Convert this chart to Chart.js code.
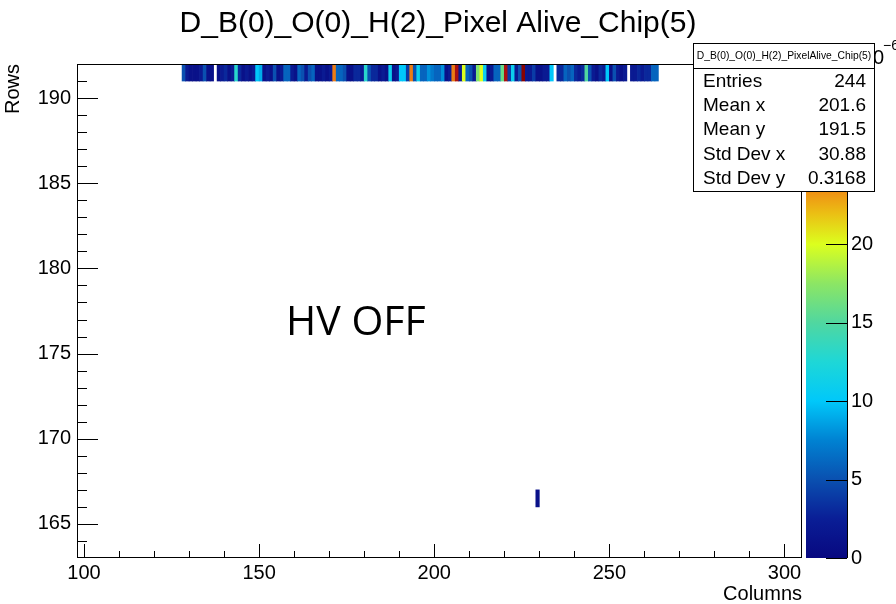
<!DOCTYPE html>
<html>
<head>
<meta charset="utf-8">
<script src="https://cdn.jsdelivr.net/npm/chart.js@4.4.0/dist/chart.umd.min.js"></script>
<style>
  html, body { margin: 0; padding: 0; background: #fff; }
</style>
</head>
<body>
<canvas id="map" width="896" height="604"></canvas>
<script>
// hit map of one chip: one row (191) nearly full, plus a single pixel lower down
const stripRow = 191;
const stripColumns = [
  128,129,130,131,132,133,134,135,136,
  138,139,140,141,142,143,144,145,146,147,
  148,149,150,151,152,153,154,155,156,157,
  158,159,160,161,162,163,164,165,166,167,
  168,169,170,171,172,173,174,175,176,177,
  178,179,180,181,182,183,184,185,186,187,
  188,189,190,191,192,193,194,195,196,197,
  198,199,200,201,202,203,204,205,206,207,
  208,209,210,211,212,213,214,215,216,217,
  218,219,220,221,222,223,224,225,226,227,
  228,229,230,231,232,233,
  235,236,237,238,239,240,241,242,243,244,
  245,246,247,248,249,250,251,252,253,254,
  256,257,258,259,260,261,262,263
];
const stripCounts = [
  5,2,1,1,1,2,5,1,1,
  1,2,3,1,2,13,3,1,2,1,
  2,10,9,1,2,1,5,1,2,6,
  6,2,1,6,5,2,5,6,1,1,
  2,1,2,24,6,6,5,1,1,3,
  3,2,13,5,3,3,1,2,1,11,
  1,2,10,10,4,24,5,11,6,6,
  8,7,6,6,8,1,2,24,29,2,
  20,6,5,2,17,20,11,1,2,6,
  6,16,29,4,11,2,5,31,2,2,
  4,1,1,2,2,10,
  3,3,6,5,6,3,2,3,15,5,
  2,1,3,2,10,1,5,2,1,2,
  2,2,3,2,3,3,6,6
];
const loneColumns = [229];
const loneRows = [166];
const loneCounts = [1];

const xTickValues = [100, 150, 200, 250, 300];
const yTickValues = [165, 170, 175, 180, 185, 190];
const zTickValues = [0, 5, 10, 15, 20, 25, 30];
const zMax = 31.5;

const statNames = ['Entries', 'Mean x', 'Mean y', 'Std Dev x', 'Std Dev y'];
const statValues = ['244', '201.6', '191.5', '30.88', '0.3168'];

const FONT = 'Liberation Sans, Arial, Helvetica, sans-serif';

// colour palette (value -> rgb), same stops feed the colour bar
const paletteStops = [
  [0, [8, 8, 128]], [2.5, [10, 30, 150]], [5, [10, 80, 176]], [7.5, [0, 130, 210]],
  [10, [0, 200, 250]], [12.5, [30, 215, 215]], [15, [80, 215, 160]], [17.5, [140, 230, 100]],
  [20, [220, 255, 30]], [22, [235, 190, 20]], [23.5, [240, 140, 20]], [26, [220, 60, 20]],
  [28.5, [180, 20, 20]], [31.5, [128, 0, 0]]
];

function colorFor(v) {
  for (let i = 1; i < paletteStops.length; i++) {
    const [v1, c1] = paletteStops[i];
    const [v0, c0] = paletteStops[i - 1];
    if (v <= v1) {
      const t = (v - v0) / (v1 - v0);
      const c = c0.map((a, k) => Math.round(a + (c1[k] - a) * t));
      return `rgb(${c[0]},${c[1]},${c[2]})`;
    }
  }
  const last = paletteStops[paletteStops.length - 1][1];
  return `rgb(${last[0]},${last[1]},${last[2]})`;
}

const stripCells = stripColumns.map(c => ({ x: c + 0.5, y: [stripRow, stripRow + 1] }));
const loneCells = loneColumns.map((c, i) => ({ x: c + 0.5, y: [loneRows[i], loneRows[i] + 1] }));

const rootStyle = {
  id: 'rootStyle',
  afterDatasetsDraw(chart) {
    const { ctx, chartArea: a } = chart;
    const xs = chart.scales.x, ys = chart.scales.y, zs = chart.scales.z;
    ctx.save();
    ctx.strokeStyle = '#000';
    ctx.lineWidth = 1;

    // inner ticks, ROOT style
    ctx.beginPath();
    for (let v = 100; v <= 300; v += 10) {
      const px = Math.round(xs.getPixelForValue(v)) + 0.5;
      const len = xTickValues.includes(v) ? 14 : 7;
      ctx.moveTo(px, a.bottom); ctx.lineTo(px, a.bottom - len);
    }
    for (let v = 164; v <= 191; v += 1) {
      const py = Math.round(ys.getPixelForValue(v)) + 0.5;
      const len = yTickValues.includes(v) ? 21 : 10;
      ctx.moveTo(a.left, py); ctx.lineTo(a.left + len, py);
    }
    ctx.stroke();

    // frame
    ctx.strokeRect(Math.round(a.left) + 0.5, Math.round(a.top) + 0.5,
      Math.round(a.right - a.left) - 1, Math.round(a.bottom - a.top) - 1);

    // colour bar
    const barL = zs.left + 4, barR = zs.left + 45;
    const yTop = zs.getPixelForValue(zMax), yBot = zs.getPixelForValue(0);
    const grad = ctx.createLinearGradient(0, yBot, 0, yTop);
    paletteStops.forEach(([v, c]) => grad.addColorStop(v / zMax, `rgb(${c[0]},${c[1]},${c[2]})`));
    ctx.fillStyle = grad;
    ctx.fillRect(barL, yTop, barR - barL, yBot - yTop);
    ctx.beginPath();
    ctx.moveTo(Math.round(barR) + 0.5, yTop); ctx.lineTo(Math.round(barR) + 0.5, yBot);
    zTickValues.forEach(v => {
      const py = Math.round(zs.getPixelForValue(v)) + 0.5;
      ctx.moveTo(barR, py); ctx.lineTo(barR - 21, py);
    });
    ctx.stroke();

    // annotation
    ctx.fillStyle = '#000';
    ctx.font = '41px "Open Sans", sans-serif';
    ctx.textAlign = 'left';
    ctx.textBaseline = 'alphabetic';
    ctx.fillText('HV OFF', xs.getPixelForValue(157.7), ys.getPixelForValue(176.1));

    // z exponent peeking out behind the stats box
    ctx.font = '20px ' + FONT;
    ctx.fillText('10', 862, 64);
    ctx.font = '14px ' + FONT;
    ctx.fillText('\u22126', 883, 50);

    // stats box
    const bx = 693.5, by = 43.5, bw = 181, bh = 148;
    ctx.fillStyle = '#fff';
    ctx.fillRect(bx, by, bw, bh);
    ctx.strokeRect(bx, by, bw, bh);
    ctx.beginPath();
    ctx.moveTo(bx, 68.5); ctx.lineTo(bx + bw, 68.5);
    ctx.stroke();
    ctx.fillStyle = '#000';
    ctx.font = '10.3px ' + FONT;
    ctx.textAlign = 'center';
    ctx.textBaseline = 'middle';
    ctx.fillText('D_B(0)_O(0)_H(2)_PixelAlive_Chip(5)', bx + bw / 2, 56.5);
    ctx.font = '19px ' + FONT;
    statNames.forEach((name, i) => {
      const ty = 82 + i * 24.1;
      ctx.textAlign = 'left';
      ctx.fillText(name, 703, ty);
      ctx.textAlign = 'right';
      ctx.fillText(statValues[i], 866, ty);
    });
    ctx.restore();
  }
};

Chart.defaults.color = '#000';
Chart.defaults.font.family = FONT;

new Chart(document.getElementById('map'), {
  type: 'bar',
  data: {
    datasets: [
      {
        data: stripCells,
        backgroundColor: stripCounts.map(colorFor),
        borderWidth: 0,
        barPercentage: 1,
        categoryPercentage: 1,
        grouped: false
      },
      {
        data: loneCells,
        backgroundColor: loneCounts.map(colorFor),
        borderWidth: 0,
        barPercentage: 1,
        categoryPercentage: 1,
        grouped: false
      }
    ]
  },
  options: {
    responsive: false,
    animation: false,
    devicePixelRatio: 1,
    layout: { padding: { left: 0, right: 20, top: 0, bottom: 0 } },
    plugins: {
      legend: { display: false },
      tooltip: { enabled: false },
      title: {
        display: true,
        text: 'D_B(0)_O(0)_H(2)_Pixel Alive_Chip(5)',
        color: '#000',
        font: { family: FONT, size: 30, weight: 'normal' },
        padding: { top: 6, bottom: 22 }
      }
    },
    scales: {
      x: {
        type: 'linear',
        min: 98,
        max: 305,
        offset: false,
        grid: { display: false, drawTicks: false },
        border: { display: false },
        afterBuildTicks: s => { s.ticks = xTickValues.map(v => ({ value: v })); },
        afterFit: s => { s.height = 46; },
        ticks: { font: { size: 20 }, padding: 3, maxRotation: 0, autoSkip: false },
        title: {
          display: true, text: 'Columns', align: 'end',
          font: { size: 20, lineHeight: 1 }, padding: { top: 0, bottom: 0 }
        }
      },
      y: {
        type: 'linear',
        min: 163,
        max: 192,
        grid: { display: false, drawTicks: false },
        border: { display: false },
        afterBuildTicks: s => { s.ticks = yTickValues.map(v => ({ value: v })); },
        afterFit: s => { s.width = 77; s.paddingTop = 0; s.paddingBottom = 0; },
        ticks: { font: { size: 20 }, padding: 6, autoSkip: false },
        title: {
          display: true, text: 'Rows', align: 'end',
          font: { size: 20, lineHeight: 1 }, padding: { top: 3, bottom: 0 }
        }
      },
      z: {
        type: 'linear',
        axis: 'y',
        position: 'right',
        min: 0,
        max: zMax,
        grid: { display: false, drawTicks: false },
        border: { display: false },
        afterBuildTicks: s => { s.ticks = zTickValues.map(v => ({ value: v })); },
        afterFit: s => { s.width = 74; s.paddingTop = 0; s.paddingBottom = 0; },
        ticks: { font: { size: 20 }, padding: 49, autoSkip: false }
      }
    }
  },
  plugins: [rootStyle]
});
</script>
</body>
</html>
